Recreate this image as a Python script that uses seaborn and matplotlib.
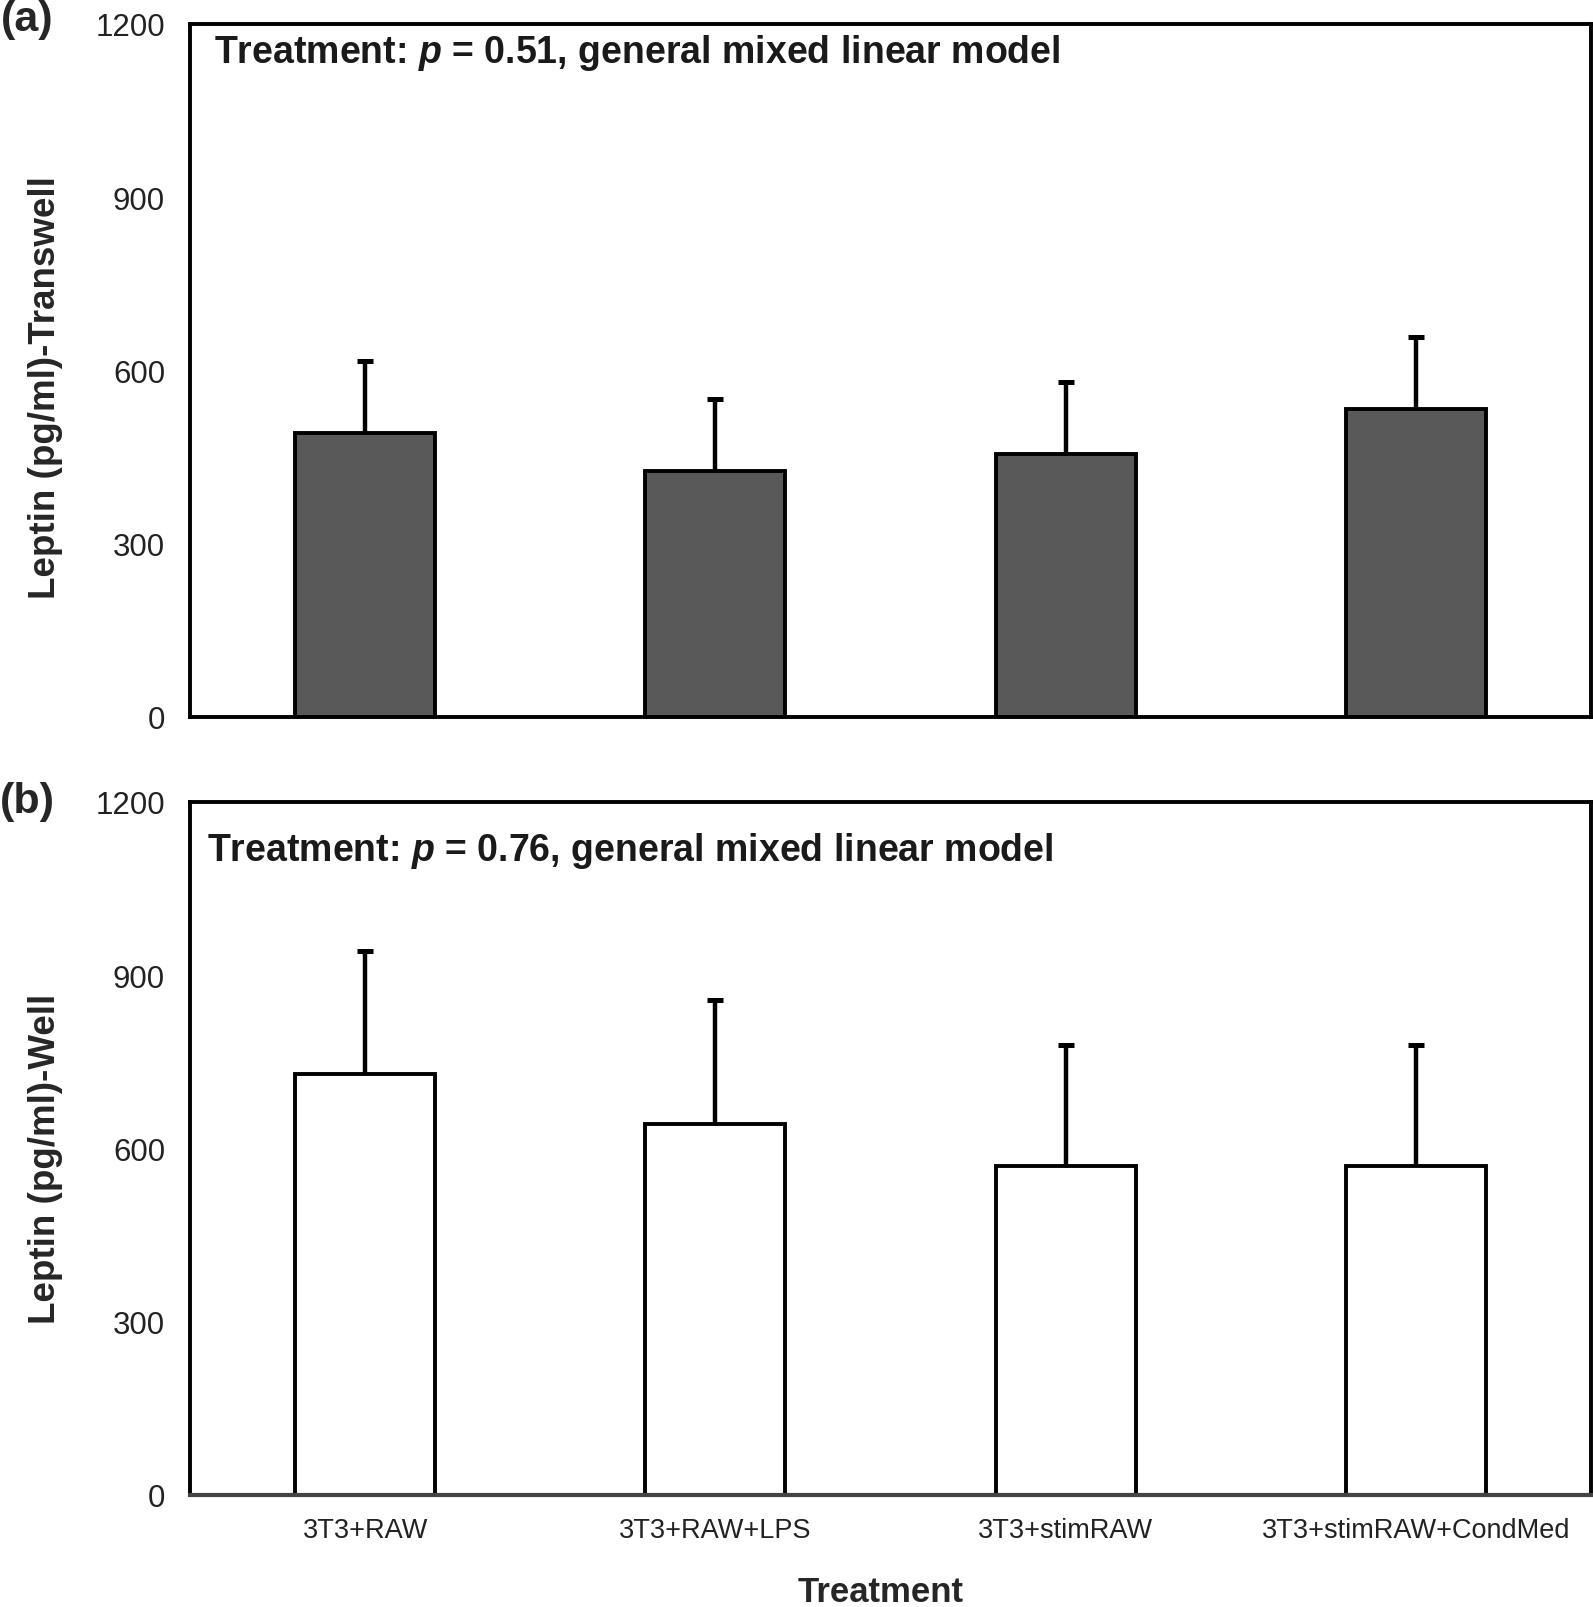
import numpy as np
import matplotlib
matplotlib.use("Agg")
import matplotlib.pyplot as plt
import seaborn as sns

categories = ["3T3+RAW", "3T3+RAW+LPS", "3T3+stimRAW", "3T3+stimRAW+CondMed"]
transwell_mean = [492, 426, 456, 534]
transwell_err = [124, 124, 124, 124]
well_mean = [729, 642, 569, 569]
well_err = [213, 215, 210, 210]
y_ticks = [0, 300, 600, 900, 1200]

sns.set_style("white")
plt.rcParams["font.family"] = ["Liberation Sans", "DejaVu Sans"]
plt.rcParams["mathtext.fontset"] = "custom"
plt.rcParams["mathtext.it"] = "Liberation Sans:italic:bold"
plt.rcParams["mathtext.rm"] = "Liberation Sans:bold"

DPI = 100
fig = plt.figure(figsize=(15.93, 16.08), dpi=DPI)
ax_a = fig.add_axes([0.1193, 0.5535, 0.8794, 0.431])
ax_b = fig.add_axes([0.1193, 0.0697, 0.8794, 0.431])


def draw_panel(ax, means, errs, fill, note, note_xy, show_xticks):
    sns.barplot(x=categories, y=means, color=fill, saturation=1, width=0.4,
                edgecolor="black", linewidth=2.8, errorbar=None, ax=ax)
    x = np.arange(len(categories))
    top = np.array(means) + np.array(errs)
    ax.vlines(x, means, top, color="black", linewidth=3.2, zorder=1)
    ax.plot(x, top, linestyle="none", marker="_", markersize=11,
            markeredgewidth=3.6, color="black", zorder=1)
    ax.set_ylim(0, 1200)
    ax.set_xlim(-0.5, len(categories) - 0.5)
    ax.set_yticks(y_ticks)
    ax.tick_params(axis="y", length=0, pad=18, labelsize=22.5, labelcolor="#222222")
    ax.tick_params(axis="x", length=0, pad=16, labelsize=19.5, labelcolor="#222222")
    if not show_xticks:
        ax.set_xticklabels([])
    ax.set_xlabel("")
    ax.set_ylabel("")
    for s in ax.spines.values():
        s.set_visible(True)
        s.set_color("black")
        s.set_linewidth(2.8)
    ax.text(note_xy[0], note_xy[1], note, transform=ax.transAxes,
            fontsize=27, fontweight="bold", color="#1a1a1a", va="center", ha="left")


draw_panel(ax_a, transwell_mean, transwell_err, "#595959",
           r"Treatment: $p$ = 0.51, general mixed linear model", (0.017, 0.96), False)
draw_panel(ax_b, well_mean, well_err, "white",
           r"Treatment: $p$ = 0.76, general mixed linear model", (0.012, 0.931), True)
ax_b.spines["bottom"].set_color("#444444")
ax_b.spines["bottom"].set_linewidth(3.0)

fig.text(46 / 1593, 1 - 388 / 1608, "Leptin (pg/ml)-Transwell", rotation=90,
         fontsize=26.5, fontweight="bold", ha="center", va="center")
fig.text(46 / 1593, 1 - 1159 / 1608, "Leptin (pg/ml)-Well", rotation=90,
         fontsize=26.5, fontweight="bold", ha="center", va="center")
fig.text(881 / 1593, 1 - 1593 / 1608, "Treatment", fontsize=25,
         fontweight="bold", ha="center", va="center")
fig.text(27 / 1593, 1 - 20 / 1608, "(a)", fontsize=31, fontweight="bold",
         ha="center", va="center")
fig.text(27 / 1593, 1 - 802 / 1608, "(b)", fontsize=31, fontweight="bold",
         ha="center", va="center")

fig.savefig("out.png", dpi=DPI, facecolor="white")
